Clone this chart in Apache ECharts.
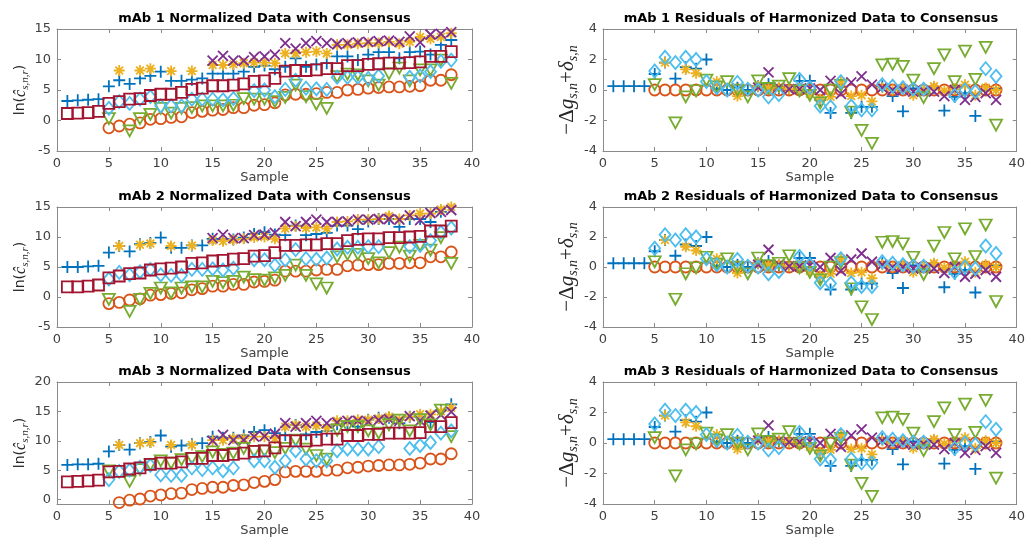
<!DOCTYPE html>
<html>
<head>
<meta charset="utf-8">
<title>mAb normalized data and residuals</title>
<script src="https://cdn.jsdelivr.net/npm/echarts@6/dist/echarts.min.js"></script>
<style>
  html, body { margin: 0; padding: 0; background: #fff; }
  #main { width: 1028px; height: 538px; }
</style>
</head>
<body>
<div id="main"></div>
<script>
// sample numbers on the x axis
const SAMPLES = Array.from({ length: 38 }, (_, i) => i + 1);
const N = null;

// ---- mAb 1 normalized data ----
const m1Plus = [3.2,3.3,3.4,3.5,5.6,6.6,6.0,6.9,7.3,8.0, 6.5,6.5,6.7,6.9,7.7,7.7,7.7,8.0,8.8,9.0, 8.4,8.8,10.2,8.8,9.2,9.4,10.5,10.5,9.9,10.8, 11.2,11.2,10.2,11.2,11.3,10.8,12.4,13.2];
const m1Circle = [N,N,N,N,-1.2,-0.9,-0.6,-0.4,0.2,0.3, 0.5,0.6,1.3,1.5,1.7,1.8,2.1,2.1,2.5,2.6, 2.9,4.2,4.3,4.3,4.4,4.6,4.6,5.0,5.1,5.3, 5.4,5.5,5.5,5.6,5.7,6.6,6.6,7.5];
const m1Star = [N,N,N,N,N,8.2,N,8.2,8.5,N, 8.1,N,8.1,N,9.1,9.1,9.2,9.4,9.5,9.5, 9.4,11.0,11.0,11.2,11.3,11.0,12.4,12.4,12.6,12.7, 12.7,12.9,12.6,12.9,13.7,13.4,13.7,14.3];
const m1Cross = [N,N,N,N,N,N,N,N,N,N, N,N,N,N,9.8,10.6,9.8,9.8,10.4,10.5, 10.8,12.7,11.8,12.7,13.0,12.7,12.5,12.7,12.8,12.9, 13.0,13.1,12.9,13.8,12.8,14.1,14.2,14.5];
const m1Tri = [N,N,N,N,0.3,N,-1.7,0.3,1.0,2.0, 1.2,2.0,2.1,2.4,2.4,2.4,2.5,3.6,3.5,3.5, 3.1,3.8,5.8,3.9,2.7,2.0,7.2,7.6,7.5,6.5, 5.8,7.7,8.6,6.5,8.3,8.3,9.9,6.1];
const m1Diam = [N,N,N,N,2.0,3.1,2.8,3.5,3.9,2.4, 2.4,2.4,3.5,3.5,3.5,3.4,3.6,N,4.9,5.0, 3.9,5.1,6.6,5.3,5.2,5.1,7.1,7.1,7.1,6.9, 7.3,N,N,7.1,7.3,8.0,9.7,9.9];
const m1Square = [1.15,1.2,1.3,1.5,2.8,3.1,3.5,3.6,4.1,4.3, 4.3,4.6,5.1,5.3,5.7,5.7,5.8,6.0,6.4,6.5, 6.9,8.1,8.2,8.2,8.3,8.5,8.5,9.0,9.0,9.2, 9.3,9.4,9.4,9.5,9.6,10.5,10.5,11.3];

// ---- mAb 2 normalized data ----
const m2Plus = [5.0,5.0,5.1,5.2,7.4,8.5,7.6,8.8,9.0,9.9, 8.2,8.2,8.6,8.6,9.7,9.6,9.6,9.9,10.5,10.8, 10.4,10.3,11.9,10.3,10.5,10.7,11.9,11.9,11.3,12.6, 13.0,13.0,11.7,13.0,13.0,12.5,14.2,15.4];
const m2Circle = [N,N,N,N,-1.1,-0.9,-0.5,-0.3,0.3,0.4, 0.6,0.7,1.2,1.4,1.8,1.8,2.1,2.1,2.5,2.6, 2.8,4.3,4.3,4.3,4.5,4.6,4.6,5.2,5.3,5.4, 5.4,5.6,5.6,5.7,5.7,6.7,6.7,7.5];
const m2Star = [N,N,N,N,N,8.5,N,8.7,8.9,N, 8.5,N,8.6,N,9.4,9.3,9.5,9.7,9.9,10.0, 9.7,11.4,11.8,11.5,11.6,11.4,12.5,12.6,12.9,12.9, 13.0,13.5,13.0,13.6,13.9,13.9,14.6,15.0];
const m2Cross = [N,N,N,N,N,N,N,N,N,N, N,N,N,N,9.8,10.4,9.8,9.8,10.3,10.4, 10.7,12.5,11.8,12.5,12.9,12.5,12.5,12.6,12.9,12.9, 13.0,13.0,12.9,13.6,12.8,14.0,14.2,14.5];
const m2Tri = [N,N,N,N,-0.4,N,-2.4,-0.4,0.6,1.5, 0.7,1.5,1.7,1.7,2.6,2.4,2.6,3.3,2.9,2.8, 3.2,3.6,5.3,3.6,2.2,1.5,6.7,7.1,7.1,6.4, 5.7,7.4,8.3,6.8,8.6,7.8,9.9,5.6];
const m2Diam = [N,N,N,N,3.0,4.1,3.7,4.2,4.6,3.7, 3.6,3.6,4.6,4.6,4.7,4.5,4.8,N,6.2,6.2, 5.3,6.2,7.9,6.4,6.3,6.5,8.0,8.3,8.3,8.4, 8.4,N,N,8.4,8.6,9.4,10.8,11.5];
const m2Square = [1.7,1.7,1.8,2.0,3.2,3.5,3.9,4.0,4.5,4.7, 4.8,5.0,5.6,5.7,6.0,6.1,6.3,6.4,6.8,6.9, 7.4,8.6,8.6,8.7,8.7,8.9,8.9,9.4,9.6,9.7, 9.7,9.9,9.9,10.0,10.1,11.0,11.0,11.8];

// ---- mAb 3 normalized data ----
const m3Plus = [5.9,6.0,6.0,6.1,8.2,9.3,8.5,9.6,9.8,10.9, 9.0,9.2,9.4,9.6,10.7,10.5,10.5,10.9,11.5,11.8, 11.3,11.0,12.7,11.1,11.5,11.7,12.8,13.0,12.4,13.6, 13.9,13.9,13.0,14.1,14.1,13.2,15.2,16.2];
const m3Circle = [N,N,N,N,-0.8,-0.5,-0.1,0.1,0.6,0.8, 1.0,1.1,1.7,1.9,2.1,2.1,2.4,2.5,2.9,3.1, 3.4,4.7,4.8,4.8,4.8,5.0,5.0,5.4,5.5,5.7, 5.8,5.9,5.9,6.0,6.2,6.9,6.9,7.8];
const m3Star = [N,N,N,N,N,9.3,N,9.6,9.7,N, 9.3,N,9.3,N,10.1,10.1,10.4,10.4,10.7,10.7, 10.4,12.4,12.7,12.4,12.6,12.2,13.4,13.4,13.6,13.6, 13.8,14.1,13.6,14.1,14.5,14.5,15.0,15.6];
const m3Cross = [N,N,N,N,N,N,N,N,N,N, N,N,N,N,10.0,11.0,10.1,10.1,10.7,10.8, 11.2,13.0,12.4,13.0,13.4,13.0,13.1,13.4,13.4,13.2, 13.5,13.7,13.4,14.2,13.4,14.3,14.4,14.9];
const m3Tri = [N,N,N,N,4.9,N,3.1,5.1,5.9,6.6, 6.2,6.8,7.0,7.3,8.1,7.7,7.9,8.7,8.2,8.3, 8.0,8.7,10.1,8.6,7.5,6.9,11.8,12.4,12.4,11.7, 11.3,12.7,13.5,11.7,13.6,12.7,15.2,10.7];
const m3Diam = [N,N,N,N,3.4,4.8,5.0,5.5,5.8,4.2, 4.1,4.1,5.4,5.1,5.4,4.9,5.4,N,6.6,6.6, 5.5,6.6,8.3,6.9,6.6,6.6,8.3,8.6,8.6,8.6, 9.0,N,N,8.7,9.2,9.7,11.3,11.7];
const m3Square = [3.0,3.1,3.2,3.3,4.7,4.8,5.2,5.4,6.0,6.2, 6.2,6.4,7.0,7.0,7.5,7.5,7.7,7.9,8.2,8.3, 8.8,10.0,10.0,10.0,10.1,10.3,10.3,10.9,10.9,11.1, 11.1,11.3,11.3,11.3,11.4,12.4,12.4,13.1];

// ---- residuals (same in all three mAb panels) ----
const rPlus = [0.25,0.25,0.25,0.25,1.05,1.8,0.75,1.5,1.4,2.0, 0.05,0.0,0.15,0.0,0.25,0.4,0.1,0.0,0.6,0.6, -0.65,-1.5,0.2,-1.5,-1.1,-1.1,0.25,-0.4,-1.4,0.1, 0.05,0.15,-1.35,-0.45,-0.2,-1.7,0.0,0.1];
const rCircle = [N,N,N,N,0.0,0.0,0.0,0.0,0.0,0.0, 0.0,0.0,0.0,0.0,0.0,0.0,0.0,0.0,0.0,0.0, 0.0,0.0,0.0,0.0,0.0,0.0,0.0,0.0,0.0,0.0, 0.0,0.0,0.0,0.0,0.0,0.0,0.0,0.0];
const rStar = [N,N,N,N,N,1.8,N,1.35,1.1,N, 0.55,N,-0.4,N,0.25,0.1,0.15,0.05,0.1,-0.25, -0.6,-0.45,0.55,-0.4,-0.35,-0.75,0.15,0.0,0.1,-0.35, 0.0,0.25,-0.05,0.05,0.35,-0.35,0.15,0.0];
const rCross = [N,N,N,N,N,N,N,N,N,N, N,N,N,N,0.15,1.15,0.15,0.05,0.05,0.1, 0.0,0.6,-0.25,0.5,0.9,0.35,0.15,0.0,0.0,-0.1, -0.05,-0.1,-0.4,0.0,-0.65,-0.45,-0.2,-0.65];
const rTri = [N,N,N,N,0.35,N,-2.15,-0.45,-0.05,0.65, 0.2,0.55,0.0,-0.45,0.6,0.1,0.25,0.75,-0.05,-0.35, -0.85,0.0,0.3,-1.45,-2.65,-3.5,1.65,1.7,1.55,0.65, -0.5,1.4,2.3,0.55,2.55,0.7,2.8,-2.3];
const rDiam = [N,N,N,N,1.25,2.15,1.8,2.15,2.0,0.55, 0.15,0.0,0.5,0.05,0.0,-0.45,-0.3,N,0.7,0.15, -1.05,-1.1,0.55,-1.05,-1.3,-1.3,0.35,0.25,0.15,0.05, 0.05,N,N,-0.35,0.0,-0.1,1.4,0.9];

// marker styles (matlab default colour order)
const MARK = {
  plus:   { symbol: 'path://M5,0L5,10M0,5L10,5', size: 12, color: '#0072BD' },
  circle: { symbol: 'circle', size: 11, color: '#D95319' },
  star:   { symbol: 'path://M5,0L5,10M0,5L10,5M1.5,1.5L8.5,8.5M1.5,8.5L8.5,1.5', size: 11, color: '#EDB120' },
  cross:  { symbol: 'path://M0,0L10,10M0,10L10,0', size: 10, color: '#7E2F8E' },
  tri:    { symbol: 'triangle', size: [12, 11], rotate: 180, color: '#77AC30' },
  diam:   { symbol: 'diamond', size: [11, 13], color: '#4DBEEE' },
  square: { symbol: 'rect', size: 11, color: '#A2142F' }
};

const FONT = 'DejaVu Sans';
const AXIS_COLOR = '#8a8a8a';

const panels = [
  { title: 'mAb 1 Normalized Data with Consensus', left: 57, top: 29, width: 415, height: 122, kind: 'norm',
    ymin: -5, ymax: 15, yticks: [-5, 0, 5, 10, 15],
    sets: [['plus', m1Plus], ['circle', m1Circle], ['star', m1Star], ['cross', m1Cross], ['tri', m1Tri], ['diam', m1Diam], ['square', m1Square]] },
  { title: 'mAb 1 Residuals of Harmonized Data to Consensus', left: 603, top: 29, width: 416, height: 122, kind: 'res',
    ymin: -4, ymax: 4, yticks: [-4, -2, 0, 2, 4],
    sets: [['plus', rPlus], ['circle', rCircle], ['star', rStar], ['cross', rCross], ['tri', rTri], ['diam', rDiam]] },
  { title: 'mAb 2 Normalized Data with Consensus', left: 57, top: 207, width: 415, height: 120, kind: 'norm',
    ymin: -5, ymax: 15, yticks: [-5, 0, 5, 10, 15],
    sets: [['plus', m2Plus], ['circle', m2Circle], ['star', m2Star], ['cross', m2Cross], ['tri', m2Tri], ['diam', m2Diam], ['square', m2Square]] },
  { title: 'mAb 2 Residuals of Harmonized Data to Consensus', left: 603, top: 207, width: 416, height: 120, kind: 'res',
    ymin: -4, ymax: 4, yticks: [-4, -2, 0, 2, 4],
    sets: [['plus', rPlus], ['circle', rCircle], ['star', rStar], ['cross', rCross], ['tri', rTri], ['diam', rDiam]] },
  { title: 'mAb 3 Normalized Data with Consensus', left: 57, top: 382, width: 415, height: 122, kind: 'norm',
    ymin: -0.75, ymax: 20, yticks: [0, 5, 10, 15, 20],
    sets: [['plus', m3Plus], ['circle', m3Circle], ['star', m3Star], ['cross', m3Cross], ['tri', m3Tri], ['diam', m3Diam], ['square', m3Square]] },
  { title: 'mAb 3 Residuals of Harmonized Data to Consensus', left: 603, top: 382, width: 416, height: 122, kind: 'res',
    ymin: -4, ymax: 4, yticks: [-4, -2, 0, 2, 4],
    sets: [['plus', rPlus], ['circle', rCircle], ['star', rStar], ['cross', rCross], ['tri', rTri], ['diam', rDiam]] }
];

// y axis names
const NORM_NAME = '{a|ln(}{c|ĉ}{s|s,n,r}{a|)}';
const NORM_RICH = {
  a: { fontFamily: FONT, fontSize: 14, color: '#262626', lineHeight: 20 },
  c: { fontFamily: 'Liberation Serif', fontStyle: 'italic', fontSize: 16, color: '#262626', lineHeight: 20 },
  s: { fontFamily: 'Liberation Serif', fontStyle: 'italic', fontSize: 11, color: '#262626', verticalAlign: 'bottom' }
};
const RES_NAME = '{m|−Δ}{i|g}{s|s,n}{m|+}{i|δ}{s|s,n}';
const RES_RICH = {
  m: { fontFamily: 'Liberation Serif', fontSize: 21, color: '#262626', lineHeight: 26 },
  i: { fontFamily: 'Liberation Serif', fontStyle: 'italic', fontSize: 21, color: '#262626', lineHeight: 26 },
  s: { fontFamily: 'Liberation Serif', fontStyle: 'italic', fontSize: 14, color: '#262626', verticalAlign: 'bottom' }
};

const grid = [], xAxis = [], yAxis = [], series = [], graphic = [];

panels.forEach(function (p, g) {
  grid.push({ left: p.left, top: p.top, width: p.width, height: p.height, containLabel: false });
  const tickStyle = { inside: true, length: 4, lineStyle: { color: AXIS_COLOR, width: 1 } };
  const lineStyle = { show: true, onZero: false, lineStyle: { color: AXIS_COLOR, width: 1 } };
  // bottom x axis
  xAxis.push({
    type: 'value', gridIndex: g, min: 0, max: 40, interval: 5, position: 'bottom',
    name: 'Sample', nameLocation: 'middle', nameGap: 19,
    nameTextStyle: { fontFamily: FONT, fontSize: 13, color: '#404040' },
    axisLine: lineStyle, axisTick: tickStyle, splitLine: { show: false },
    axisLabel: { fontFamily: FONT, fontSize: 13, color: '#404040', margin: 6 }
  });
  // top x axis (box + ticks only)
  xAxis.push({
    type: 'value', gridIndex: g, min: 0, max: 40, interval: 5, position: 'top',
    axisLine: lineStyle, axisTick: tickStyle, splitLine: { show: false }, axisLabel: { show: false }
  });
  const isNorm = p.kind === 'norm';
  const yBase = {
    type: 'value', gridIndex: g, min: p.ymin, max: p.ymax, splitLine: { show: false },
    axisLine: lineStyle
  };
  yAxis.push(Object.assign({}, yBase, {
    position: 'left',
    name: isNorm ? NORM_NAME : RES_NAME,
    nameLocation: 'middle', nameRotate: 90, nameGap: isNorm ? 24 : 22,
    nameTextStyle: { rich: isNorm ? NORM_RICH : RES_RICH },
    axisTick: Object.assign({ customValues: p.yticks }, tickStyle),
    axisLabel: { customValues: p.yticks, fontFamily: FONT, fontSize: 13, color: '#404040', margin: 6 }
  }));
  yAxis.push(Object.assign({}, yBase, {
    position: 'right',
    axisTick: Object.assign({ customValues: p.yticks }, tickStyle),
    axisLabel: { show: false, customValues: p.yticks }
  }));

  p.sets.forEach(function (s, k) {
    const m = MARK[s[0]];
    const pts = [];
    s[1].forEach(function (v, i) { if (v !== null) pts.push([SAMPLES[i], v]); });
    series.push({
      type: 'scatter', xAxisIndex: 2 * g, yAxisIndex: 2 * g,
      data: pts, symbol: m.symbol, symbolSize: m.size, symbolRotate: m.rotate || 0,
      z: 2 + k, silent: true,
      itemStyle: { color: 'transparent', borderColor: m.color, borderWidth: 1.8, opacity: 1 }
    });
  });

  graphic.push({
    type: 'text', x: p.left + p.width / 2, y: p.top - 10,
    style: {
      text: p.title, fill: '#000', fontFamily: FONT, fontWeight: 'bold', fontSize: 13,
      align: 'center', verticalAlign: 'middle', textAlign: 'center', textVerticalAlign: 'middle'
    }
  });
});

const chart = echarts.init(document.getElementById('main'), null, { renderer: 'canvas' });
chart.setOption({
  animation: false,
  backgroundColor: '#fff',
  grid: grid,
  xAxis: xAxis,
  yAxis: yAxis,
  series: series,
  graphic: graphic
});
</script>
</body>
</html>
